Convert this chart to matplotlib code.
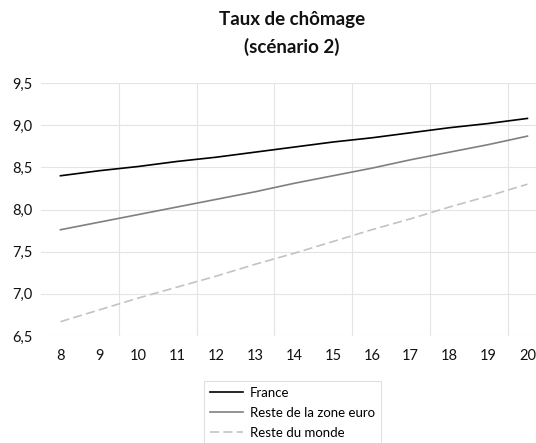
import numpy as np
import matplotlib
matplotlib.use("Agg")
import matplotlib.pyplot as plt
from matplotlib.ticker import FuncFormatter, MultipleLocator

# -----------------------------
# Data
# -----------------------------
years = [8, 9, 10, 11, 12, 13, 14, 15, 16, 17, 18, 19, 20]
france = [8.40, 8.46, 8.51, 8.57, 8.62, 8.68, 8.74, 8.80, 8.85, 8.91, 8.97, 9.02, 9.08]
zone_euro = [7.76, 7.85, 7.94, 8.03, 8.12, 8.21, 8.31, 8.40, 8.49, 8.59, 8.68, 8.77, 8.87]
monde = [6.67, 6.81, 6.95, 7.08, 7.21, 7.35, 7.48, 7.62, 7.76, 7.89, 8.03, 8.16, 8.30]
labels = ["France", "Reste de la zone euro", "Reste du monde"]
title_lines = ["Taux de chômage", "(scénario 2)"]

plt.rcParams['font.family'] = ['Lato', 'DejaVu Sans']

W, H = 536, 443
fig = plt.figure(figsize=(W / 100, H / 100), dpi=100)
ax = fig.add_axes([41 / W, 1 - 336 / H, (W - 41) / W, (336 - 83) / H])

ax.plot(years, france, color='#000000', lw=1.2, label=labels[0])
ax.plot(years, zone_euro, color='#808080', lw=1.2, label=labels[1])
ln, = ax.plot(years, monde, color='#c3c3c3', lw=1.2, label=labels[2])
ln.set_dashes((5.5, 2.5))

ax.set_xlim(7.5, 20.22)
ax.set_ylim(6.5, 9.5)
ax.set_xticks(years)
ax.yaxis.set_major_locator(MultipleLocator(0.5))
ax.yaxis.set_major_formatter(FuncFormatter(lambda v, p: f"{v:.1f}".replace('.', ',')))

# vertical grid between categories, every second one
ax.set_xticks(np.arange(9.5, 20, 2), minor=True)
ax.grid(which='minor', axis='x', color='#e4e4e4', lw=0.8)
ax.grid(which='major', axis='y', color='#e4e4e4', lw=0.8)
ygl = ax.yaxis.get_gridlines()
ygl[0].set_visible(False)
ygl[-1].set_visible(False)
ax.set_axisbelow(True)

for s in ax.spines.values():
    s.set_visible(False)
ax.tick_params(which='both', length=0)
ax.tick_params(axis='x', pad=9, labelsize=10.5, colors='#111111')
ax.tick_params(axis='y', pad=6, labelsize=10.5, colors='#111111')

fig.text(292 / W, 1 - 19.5 / H, title_lines[0], ha='center', va='center',
         fontsize=13.5, fontweight='bold', color='#111111')
fig.text(292 / W, 1 - 47 / H, title_lines[1], ha='center', va='center',
         fontsize=13.5, fontweight='bold', color='#111111')

leg = fig.legend(loc='upper left', bbox_to_anchor=(204 / W, 1 - 381 / H),
                 fontsize=9.5, frameon=True, fancybox=False, borderpad=0.45,
                 labelspacing=0.6, handlelength=2.5, handletextpad=0.55,
                 borderaxespad=0)
leg.get_frame().set_edgecolor('#d9d9d9')
leg.get_frame().set_linewidth(0.8)

fig.savefig("out.png", dpi=100)
